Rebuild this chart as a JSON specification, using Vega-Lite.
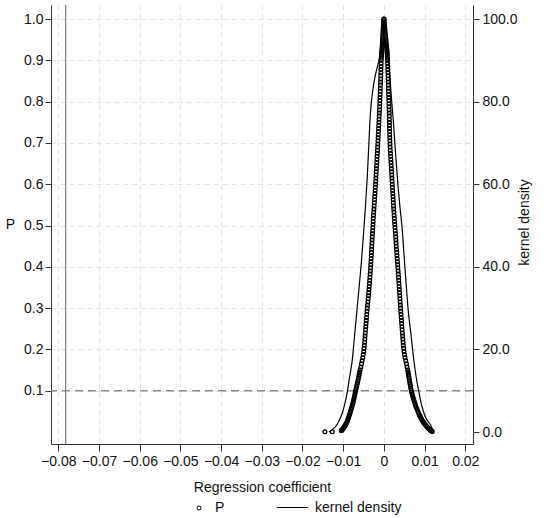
{
"$schema":"https://vega.github.io/schema/vega-lite/v6.json",
"width":422,"height":439,
"autosize":"none",
"padding":{"left":51,"top":5,"right":77,"bottom":74},
"background":"white",
"config":{"view":{"stroke":null},"font":"Liberation Sans",
"axis":{"domainColor":"#333","tickColor":"#333","labelColor":"#111","titleColor":"#111","labelFontSize":14,"titleFontSize":14,"titleFontWeight":"normal","gridColor":"#e4e4e4","gridDash":[5,4],"domainWidth":1,"tickWidth":1,"labelFont":"Liberation Sans","titleFont":"Liberation Sans"},
"legend":{"labelFont":"Liberation Sans","labelFontSize":14,"labelColor":"#111"}},
"datasets":{
"pts":[
{"b":-0.00002,"p":1.0},{"b":-0.00008,"p":0.99},{"b":-0.00015,"p":0.98},{"b":-0.0002,"p":0.97},{"b":-0.00026,"p":0.96},{"b":-0.00031,"p":0.95},{"b":-0.00038,"p":0.94},{"b":-0.00046,"p":0.93},{"b":-0.00055,"p":0.92},{"b":-0.0006,"p":0.91},{"b":-0.00064,"p":0.9},{"b":-0.00069,"p":0.885},{"b":-0.00074,"p":0.87},{"b":-0.00079,"p":0.855},{"b":-0.00084,"p":0.84},{"b":-0.0009,"p":0.825},{"b":-0.00095,"p":0.81},{"b":-0.001,"p":0.795},{"b":-0.00107,"p":0.78},{"b":-0.00114,"p":0.765},{"b":-0.00122,"p":0.75},{"b":-0.0013,"p":0.735},{"b":-0.00138,"p":0.72},{"b":-0.00145,"p":0.705},{"b":-0.00153,"p":0.69},{"b":-0.00161,"p":0.675},{"b":-0.0017,"p":0.66},{"b":-0.00178,"p":0.645},{"b":-0.00187,"p":0.63},{"b":-0.00196,"p":0.615},{"b":-0.00204,"p":0.6},{"b":-0.00214,"p":0.585},{"b":-0.00224,"p":0.57},{"b":-0.00234,"p":0.555},{"b":-0.00244,"p":0.54},{"b":-0.00255,"p":0.525},{"b":-0.00264,"p":0.51},{"b":-0.00272,"p":0.495},{"b":-0.0028,"p":0.48},{"b":-0.00289,"p":0.465},{"b":-0.00297,"p":0.45},{"b":-0.00305,"p":0.435},{"b":-0.00313,"p":0.42},{"b":-0.00322,"p":0.405},{"b":-0.00332,"p":0.39},{"b":-0.00343,"p":0.375},{"b":-0.00354,"p":0.36},{"b":-0.00366,"p":0.345},{"b":-0.00378,"p":0.33},{"b":-0.00393,"p":0.315},{"b":-0.00408,"p":0.3},{"b":-0.0042,"p":0.285},{"b":-0.00432,"p":0.27},{"b":-0.00444,"p":0.255},{"b":-0.00456,"p":0.24},{"b":-0.00468,"p":0.225},{"b":-0.0048,"p":0.21},{"b":-0.00495,"p":0.195},{"b":-0.0052,"p":0.18},{"b":-0.0055,"p":0.165},{"b":-0.00585,"p":0.15},{"b":-0.00605,"p":0.14},{"b":-0.00625,"p":0.13},{"b":-0.00648,"p":0.12},{"b":-0.00671,"p":0.11},{"b":-0.00695,"p":0.1},{"b":-0.00715,"p":0.09},{"b":-0.00738,"p":0.08},{"b":-0.0076,"p":0.07},{"b":-0.0079,"p":0.06},{"b":-0.0082,"p":0.05},{"b":-0.00845,"p":0.042},{"b":-0.00868,"p":0.035},{"b":-0.00892,"p":0.028},{"b":-0.00918,"p":0.022},{"b":-0.00945,"p":0.017},{"b":-0.00975,"p":0.012},{"b":-0.01005,"p":0.008},{"b":-0.0103,"p":0.005},{"b":-0.01047,"p":0.003},{"b":-0.01268,"p":0.0005},{"b":-0.0145,"p":0.0005},
{"b":-0.00005,"p":0.995},{"b":-0.00012,"p":0.985},{"b":-0.00018,"p":0.975},{"b":-0.00023,"p":0.965},{"b":-0.00029,"p":0.955},{"b":-0.00035,"p":0.945},{"b":-0.00042,"p":0.935},{"b":-0.0005,"p":0.925},{"b":-0.00058,"p":0.915},{"b":-0.00062,"p":0.905},{"b":-0.00067,"p":0.8925},{"b":-0.00072,"p":0.8775},{"b":-0.00077,"p":0.8625},{"b":-0.00082,"p":0.8475},{"b":-0.00087,"p":0.8325},{"b":-0.00093,"p":0.8175},{"b":-0.00098,"p":0.8025},{"b":-0.00104,"p":0.7875},{"b":-0.00111,"p":0.7725},{"b":-0.00118,"p":0.7575},{"b":-0.00126,"p":0.7425},{"b":-0.00134,"p":0.7275},{"b":-0.00142,"p":0.7125},{"b":-0.00149,"p":0.6975},{"b":-0.00157,"p":0.6825},{"b":-0.00166,"p":0.6675},{"b":-0.00174,"p":0.6525},{"b":-0.00183,"p":0.6375},{"b":-0.00192,"p":0.6225},{"b":-0.002,"p":0.6075},{"b":-0.00209,"p":0.5925},{"b":-0.00219,"p":0.5775},{"b":-0.00229,"p":0.5625},{"b":-0.00239,"p":0.5475},{"b":-0.0025,"p":0.5325},{"b":-0.0026,"p":0.5175},{"b":-0.00268,"p":0.5025},{"b":-0.00276,"p":0.4875},{"b":-0.00285,"p":0.4725},{"b":-0.00293,"p":0.4575},{"b":-0.00301,"p":0.4425},{"b":-0.00309,"p":0.4275},{"b":-0.00318,"p":0.4125},{"b":-0.00327,"p":0.3975},{"b":-0.00338,"p":0.3825},{"b":-0.00349,"p":0.3675},{"b":-0.0036,"p":0.3525},{"b":-0.00372,"p":0.3375},{"b":-0.00386,"p":0.3225},{"b":-0.004,"p":0.3075},{"b":-0.00414,"p":0.2925},{"b":-0.00426,"p":0.2775},{"b":-0.00438,"p":0.2625},{"b":-0.0045,"p":0.2475},{"b":-0.00462,"p":0.2325},{"b":-0.00474,"p":0.2175},{"b":-0.00488,"p":0.2025},{"b":-0.00507,"p":0.1875},{"b":-0.00535,"p":0.1725},{"b":-0.00567,"p":0.1575},{"b":-0.00595,"p":0.145},{"b":-0.00615,"p":0.135},{"b":-0.00637,"p":0.125},{"b":-0.0066,"p":0.115},{"b":-0.00683,"p":0.105},{"b":-0.00705,"p":0.095},{"b":-0.00727,"p":0.085},{"b":-0.00749,"p":0.075},{"b":-0.00775,"p":0.065},{"b":-0.00805,"p":0.055},{"b":-0.00832,"p":0.046},{"b":-0.00857,"p":0.0385},{"b":-0.0088,"p":0.0315},{"b":-0.00905,"p":0.025},{"b":-0.00932,"p":0.0195},{"b":-0.0096,"p":0.0145},{"b":-0.0099,"p":0.01},{"b":-0.01018,"p":0.0065},{"b":-0.01039,"p":0.004},
{"b":0.00005,"p":1.0},{"b":0.00012,"p":0.99},{"b":0.0002,"p":0.98},{"b":0.0003,"p":0.97},{"b":0.0004,"p":0.96},{"b":0.0005,"p":0.95},{"b":0.0006,"p":0.94},{"b":0.0007,"p":0.93},{"b":0.0008,"p":0.92},{"b":0.00086,"p":0.91},{"b":0.0009,"p":0.9},{"b":0.00095,"p":0.885},{"b":0.001,"p":0.87},{"b":0.00105,"p":0.855},{"b":0.0011,"p":0.84},{"b":0.00115,"p":0.825},{"b":0.0012,"p":0.81},{"b":0.00125,"p":0.795},{"b":0.0013,"p":0.78},{"b":0.00134,"p":0.765},{"b":0.00137,"p":0.75},{"b":0.0014,"p":0.735},{"b":0.00143,"p":0.72},{"b":0.00147,"p":0.705},{"b":0.00153,"p":0.69},{"b":0.00162,"p":0.675},{"b":0.00171,"p":0.66},{"b":0.0018,"p":0.645},{"b":0.00189,"p":0.63},{"b":0.00197,"p":0.615},{"b":0.00206,"p":0.6},{"b":0.00215,"p":0.585},{"b":0.00224,"p":0.57},{"b":0.00233,"p":0.555},{"b":0.00242,"p":0.54},{"b":0.00252,"p":0.525},{"b":0.00262,"p":0.51},{"b":0.00273,"p":0.495},{"b":0.00284,"p":0.48},{"b":0.00295,"p":0.465},{"b":0.00305,"p":0.45},{"b":0.00316,"p":0.435},{"b":0.00327,"p":0.42},{"b":0.00339,"p":0.405},{"b":0.0035,"p":0.39},{"b":0.0036,"p":0.375},{"b":0.0037,"p":0.36},{"b":0.0038,"p":0.345},{"b":0.0039,"p":0.33},{"b":0.004,"p":0.315},{"b":0.0041,"p":0.3},{"b":0.00421,"p":0.285},{"b":0.00432,"p":0.27},{"b":0.00443,"p":0.255},{"b":0.00455,"p":0.24},{"b":0.00466,"p":0.225},{"b":0.00478,"p":0.21},{"b":0.00495,"p":0.195},{"b":0.0052,"p":0.18},{"b":0.00555,"p":0.165},{"b":0.00585,"p":0.15},{"b":0.00603,"p":0.14},{"b":0.0062,"p":0.13},{"b":0.00637,"p":0.12},{"b":0.00655,"p":0.11},{"b":0.00673,"p":0.1},{"b":0.007,"p":0.09},{"b":0.00728,"p":0.08},{"b":0.0076,"p":0.07},{"b":0.00795,"p":0.06},{"b":0.00835,"p":0.05},{"b":0.0087,"p":0.042},{"b":0.00905,"p":0.035},{"b":0.00945,"p":0.028},{"b":0.00985,"p":0.022},{"b":0.01025,"p":0.017},{"b":0.01065,"p":0.012},{"b":0.01105,"p":0.008},{"b":0.0114,"p":0.005},{"b":0.01165,"p":0.003},{"b":0.01189,"p":0.001},
{"b":0.00008,"p":0.995},{"b":0.00016,"p":0.985},{"b":0.00025,"p":0.975},{"b":0.00035,"p":0.965},{"b":0.00045,"p":0.955},{"b":0.00055,"p":0.945},{"b":0.00065,"p":0.935},{"b":0.00075,"p":0.925},{"b":0.00083,"p":0.915},{"b":0.00088,"p":0.905},{"b":0.00092,"p":0.8925},{"b":0.00097,"p":0.8775},{"b":0.00102,"p":0.8625},{"b":0.00107,"p":0.8475},{"b":0.00112,"p":0.8325},{"b":0.00117,"p":0.8175},{"b":0.00122,"p":0.8025},{"b":0.00127,"p":0.7875},{"b":0.00132,"p":0.7725},{"b":0.00135,"p":0.7575},{"b":0.00138,"p":0.7425},{"b":0.00141,"p":0.7275},{"b":0.00145,"p":0.7125},{"b":0.0015,"p":0.6975},{"b":0.00157,"p":0.6825},{"b":0.00166,"p":0.6675},{"b":0.00175,"p":0.6525},{"b":0.00184,"p":0.6375},{"b":0.00193,"p":0.6225},{"b":0.00201,"p":0.6075},{"b":0.0021,"p":0.5925},{"b":0.0022,"p":0.5775},{"b":0.00228,"p":0.5625},{"b":0.00237,"p":0.5475},{"b":0.00247,"p":0.5325},{"b":0.00257,"p":0.5175},{"b":0.00267,"p":0.5025},{"b":0.00278,"p":0.4875},{"b":0.0029,"p":0.4725},{"b":0.003,"p":0.4575},{"b":0.0031,"p":0.4425},{"b":0.00321,"p":0.4275},{"b":0.00333,"p":0.4125},{"b":0.00344,"p":0.3975},{"b":0.00355,"p":0.3825},{"b":0.00365,"p":0.3675},{"b":0.00375,"p":0.3525},{"b":0.00385,"p":0.3375},{"b":0.00395,"p":0.3225},{"b":0.00405,"p":0.3075},{"b":0.00415,"p":0.2925},{"b":0.00426,"p":0.2775},{"b":0.00437,"p":0.2625},{"b":0.00449,"p":0.2475},{"b":0.0046,"p":0.2325},{"b":0.00472,"p":0.2175},{"b":0.00486,"p":0.2025},{"b":0.00507,"p":0.1875},{"b":0.00537,"p":0.1725},{"b":0.0057,"p":0.1575},{"b":0.00594,"p":0.145},{"b":0.00611,"p":0.135},{"b":0.00628,"p":0.125},{"b":0.00646,"p":0.115},{"b":0.00664,"p":0.105},{"b":0.00686,"p":0.095},{"b":0.00714,"p":0.085},{"b":0.00744,"p":0.075},{"b":0.00777,"p":0.065},{"b":0.00815,"p":0.055},{"b":0.00852,"p":0.046},{"b":0.00887,"p":0.0385},{"b":0.00925,"p":0.0315},{"b":0.00965,"p":0.025},{"b":0.01005,"p":0.0195},{"b":0.01045,"p":0.0145},{"b":0.01085,"p":0.01},{"b":0.01122,"p":0.0065},{"b":0.01152,"p":0.004},{"b":0.01177,"p":0.002}
],
"kd":[
{"b":-0.01351,"d":0},{"b":-0.0129,"d":0.4},{"b":-0.0123,"d":0.9},{"b":-0.01187,"d":1.3},{"b":-0.011,"d":2.8},{"b":-0.01022,"d":4.6},{"b":-0.0096,"d":6.8},{"b":-0.00899,"d":9.7},{"b":-0.0084,"d":13.5},{"b":-0.00776,"d":17.5},{"b":-0.00737,"d":21.5},{"b":-0.007,"d":25.5},{"b":-0.00654,"d":30.3},{"b":-0.006,"d":36.0},{"b":-0.00555,"d":40.9},{"b":-0.00491,"d":49.3},{"b":-0.0045,"d":55.0},{"b":-0.00408,"d":61.8},{"b":-0.00375,"d":68.5},{"b":-0.00344,"d":75.0},{"b":-0.0032,"d":78.5},{"b":-0.00302,"d":80.4},{"b":-0.00246,"d":84.5},{"b":-0.002,"d":86.8},{"b":-0.00147,"d":88.9},{"b":-0.0009,"d":91.5},{"b":-0.0004,"d":94.0},{"b":0.0001,"d":95.5},{"b":0.0006,"d":93.0},{"b":0.00123,"d":88.9},{"b":0.00189,"d":80.4},{"b":0.00231,"d":75.5},{"b":0.0028,"d":68.5},{"b":0.00329,"d":61.8},{"b":0.0039,"d":55.0},{"b":0.00452,"d":48.9},{"b":0.00509,"d":40.9},{"b":0.0055,"d":35.5},{"b":0.0059,"d":30.3},{"b":0.00673,"d":23.0},{"b":0.00722,"d":18.5},{"b":0.0079,"d":13.5},{"b":0.0086,"d":9.7},{"b":0.0092,"d":6.8},{"b":0.00983,"d":4.6},{"b":0.0106,"d":2.9},{"b":0.01147,"d":1.7},{"b":0.0119,"d":0.8},{"b":0.01229,"d":0}
]},
"layer":[
{"layer":[
{"data":{"values":[{"b":-0.0782}]},"mark":{"type":"rule","color":"#7a7a7a","strokeWidth":1.2},
"encoding":{"x":{"field":"b","type":"quantitative","scale":{"domain":[-0.0818,0.0219],"nice":false,"zero":false},"axis":{"values":[-0.08,-0.07,-0.06,-0.05,-0.04,-0.03,-0.02,-0.01,0,0.01,0.02],"format":"~g","grid":true,"tickSize":7,"labelPadding":3,"title":"Regression coefficient","titlePadding":12}}}},
{"data":{"values":[{"p":0.1}]},"mark":{"type":"rule","color":"#8c8c8c","strokeWidth":1.3,"strokeDash":[8,5]},
"encoding":{"y":{"field":"p","type":"quantitative","scale":{"domain":[-0.029,1.034],"nice":false,"zero":false},"axis":{"orient":"left","values":[0.1,0.2,0.3,0.4,0.5,0.6,0.7,0.8,0.9,1.0],"format":".1f","grid":true,"tickSize":6,"labelPadding":2,"title":"P","titleAngle":0,"titleX":-41,"titleY":219,"titleAlign":"center","titleBaseline":"middle"}}}},
{"data":{"name":"pts"},"mark":{"type":"point","filled":false,"stroke":"black","strokeWidth":1.3,"size":14,"opacity":1},
"encoding":{"x":{"field":"b","type":"quantitative","scale":{"domain":[-0.0818,0.0219],"nice":false,"zero":false},"axis":{"values":[-0.08,-0.07,-0.06,-0.05,-0.04,-0.03,-0.02,-0.01,0,0.01,0.02],"format":"~g","grid":true,"tickSize":7,"labelPadding":3,"title":"Regression coefficient","titlePadding":12}},
"y":{"field":"p","type":"quantitative","scale":{"domain":[-0.029,1.034],"nice":false,"zero":false},"axis":{"orient":"left","values":[0.1,0.2,0.3,0.4,0.5,0.6,0.7,0.8,0.9,1.0],"format":".1f","grid":true,"tickSize":6,"labelPadding":2,"title":"P","titleAngle":0,"titleX":-41,"titleY":219,"titleAlign":"center","titleBaseline":"middle"}},
"shape":{"datum":"P","scale":{"range":["circle"]},"legend":{"orient":"none","legendX":141,"legendY":496,"title":null,"symbolSize":16,"symbolStrokeWidth":1,"symbolStrokeColor":"black","symbolFillColor":"white","labelOffset":9,"padding":0}}}}
]},
{"data":{"name":"kd"},"mark":{"type":"line","strokeWidth":1.2,"interpolate":"monotone"},
"encoding":{"x":{"field":"b","type":"quantitative","scale":{"domain":[-0.0818,0.0219],"nice":false,"zero":false},"axis":{"values":[-0.08,-0.07,-0.06,-0.05,-0.04,-0.03,-0.02,-0.01,0,0.01,0.02],"format":"~g","grid":true,"tickSize":7,"labelPadding":3,"title":"Regression coefficient","titlePadding":12}},
"y":{"field":"d","type":"quantitative","scale":{"domain":[-2.9,103.4],"nice":false,"zero":false},"axis":{"orient":"right","values":[0,20,40,60,80,100],"format":".1f","grid":false,"tickSize":6,"labelPadding":3,"title":"kernel density","titleAngle":270,"titleX":51,"titleY":217,"titleAlign":"center","titleBaseline":"middle"}},
"color":{"datum":"kernel density","scale":{"range":["black"]},"legend":{"orient":"none","legendX":225,"legendY":486,"title":null,"symbolType":"stroke","symbolSize":1000,"symbolStrokeWidth":1.2,"labelOffset":6,"padding":0}}}}
],
"resolve":{"scale":{"y":"independent"}}
}
